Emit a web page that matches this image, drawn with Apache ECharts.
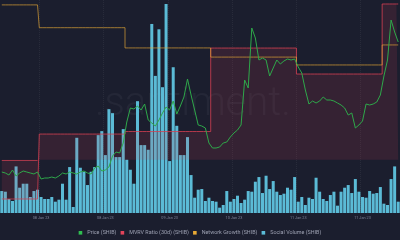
<!DOCTYPE html>
<html><head><meta charset="utf-8">
<script src="https://cdn.jsdelivr.net/npm/echarts@6/dist/echarts.min.js"></script>
<style>html,body{margin:0;padding:0;background:#1b1e2e;}#c{width:400px;height:240px;}</style>
</head><body><div id="c"></div>
<script>
// hourly categories starting 07 Jan 23 13:00
const categories = [];
for (let i = 0; i < 112; i++) {
  const t = 13 + i, d = 7 + Math.floor(t / 24), h = t % 24;
  categories.push((d < 10 ? '0' : '') + d + ' Jan 23 ' + (h < 10 ? '0' : '') + h + ':00');
}
const seriesNames = ['Price (SHIB)', 'MVRV Ratio (30d) (SHIB)', 'Network Growth (SHIB)', 'Social Volume (SHIB)'];

const socialVolume = [33,32,21,18,70,38,44,44,24,33,
  35,24,21,21,24,17,20,44,20,69,
  9,113,68,62,42,62,69,117,123,87,
  156,150,84,84,126,80,65,44,168,102,
  102,95,284,206,276,189,314,78,219,131,
  87,87,114,57,23,35,36,18,23,18,
  17,8,12,33,17,21,26,15,20,33,
  32,47,54,30,56,36,48,32,27,29,
  38,35,54,17,24,12,23,21,53,32,
  21,18,27,32,11,32,38,42,30,51,
  32,24,23,33,29,30,39,14,12,51,
  70,17];

const price = [7.41,7.40,7.38,7.43,7.37,7.40,7.42,7.41,7.40,7.39,
  7.41,7.34,7.35,7.35,7.36,7.35,7.37,7.40,7.39,7.41,
  7.40,7.39,7.41,7.42,7.40,7.39,7.45,7.47,7.42,7.43,
  7.46,7.57,7.61,7.60,7.70,7.91,8.05,8.04,8.07,8.03,
  8.09,7.93,7.90,7.87,7.93,8.00,8.06,8.03,8.12,7.99,
  8.07,8.16,8.34,8.18,8.03,7.88,7.87,7.85,7.70,7.65,
  7.65,7.66,7.70,7.71,7.76,7.80,7.83,7.88,8.33,8.25,
  8.85,8.75,8.53,8.55,8.53,8.37,8.45,8.53,8.49,8.52,
  8.54,8.53,8.54,8.46,8.40,8.23,8.09,8.12,8.10,8.12,
  8.16,8.13,8.13,8.12,8.10,8.08,8.05,7.98,8.00,7.85,
  7.88,7.92,8.09,8.08,8.09,8.11,8.18,8.37,8.53,8.93,
  8.81,8.71];

const mvrv = [-2.95,-2.95,-2.95,-2.95,-2.95,-2.95,-2.95,-2.95,-2.95,-2.95,-2.95,
  1.93,1.93,1.93,1.93,1.93,1.93,1.93,1.93,1.93,1.93,1.93,1.93,1.93,1.93,1.93,1.93,1.93,1.93,1.93,1.93,1.93,1.93,1.93,1.93,
  2.12,2.12,2.12,2.12,2.12,2.12,2.12,2.12,2.12,2.12,2.12,2.12,2.12,2.12,2.12,2.12,2.12,2.12,2.12,2.12,2.12,2.12,2.12,2.12,
  8.39,8.39,8.39,8.39,8.39,8.39,8.39,8.39,8.39,8.39,8.39,8.39,8.39,8.39,8.39,8.39,8.39,8.39,8.39,8.39,8.39,8.39,8.39,8.39,
  6.44,6.44,6.44,6.44,6.44,6.44,6.44,6.44,6.44,6.44,6.44,6.44,6.44,6.44,6.44,6.44,6.44,6.44,6.44,6.44,6.44,6.44,6.44,6.44,
  11.7,11.7,11.7,11.7,11.7];

const networkGrowth = [97.7,97.7,97.7,97.7,97.7,97.7,97.7,97.7,97.7,97.7,97.7,
  87.0,87.0,87.0,87.0,87.0,87.0,87.0,87.0,87.0,87.0,87.0,87.0,87.0,87.0,87.0,87.0,87.0,87.0,87.0,87.0,87.0,87.0,87.0,87.0,
  77.5,77.5,77.5,77.5,77.5,77.5,77.5,77.5,77.5,77.5,77.5,77.5,77.5,77.5,77.5,77.5,77.5,77.5,77.5,77.5,77.5,77.5,77.5,77.5,
  73.2,73.2,73.2,73.2,73.2,73.2,73.2,73.2,73.2,73.2,73.2,73.2,73.2,73.2,73.2,73.2,73.2,73.2,73.2,73.2,73.2,73.2,73.2,73.2,
  69.5,69.5,69.5,69.5,69.5,69.5,69.5,69.5,69.5,69.5,69.5,69.5,69.5,69.5,69.5,69.5,69.5,69.5,69.5,69.5,69.5,69.5,69.5,69.5,
  78.9,78.9,78.9,78.9,78.9];

const labelEvery = 18, labelOffset = 11;
const showTick = (i) => i % labelEvery === labelOffset;

const chart = echarts.init(document.getElementById('c'), null, {renderer: 'canvas'});
chart.setOption({
  animation: false,
  backgroundColor: '#1b1e2e',
  graphic: [{
    type: 'text', left: 95, top: 85, z: -10,
    style: { text: '.santiment.', font: '300 40px Roboto', fill: 'rgba(255,255,255,0.045)' }
  }],
  legend: {
    data: seriesNames, left: 'center', top: 230.3,
    icon: 'rect', itemWidth: 3.6, itemHeight: 3.6, itemGap: 4.2, padding: 0,
    textStyle: { color: '#9da1b2', fontSize: 5.4, fontFamily: 'Roboto' }
  },
  grid: { left: 0, right: 0, top: 0, bottom: 27 },
  xAxis: {
    type: 'category', data: categories, boundaryGap: true,
    axisLine: { show: false }, axisTick: { show: false },
    axisLabel: { interval: showTick, formatter: (v) => v.slice(0, 9), color: '#7d8296', fontSize: 3.8, margin: 2.6, fontFamily: 'Roboto' },
    splitLine: { show: true, interval: showTick, lineStyle: { color: 'rgba(255,255,255,0.06)', type: 'dotted', width: 1 } }
  },
  yAxis: [
    { type: 'value', min: 0, max: 320, show: false, splitLine: { show: false } },
    { type: 'value', min: 7, max: 9.13, show: false, splitLine: { show: false } },
    { type: 'value', min: -4, max: 12, show: false, splitLine: { show: false } },
    { type: 'value', min: 0, max: 100, show: false, splitLine: { show: false } }
  ],
  series: [
    { name: seriesNames[3], type: 'bar', yAxisIndex: 0, data: socialVolume, z: 1,
      barCategoryGap: '16%', itemStyle: { color: '#5bbbd6' } },
    { name: seriesNames[1], type: 'line', yAxisIndex: 2, data: mvrv, step: 'middle', symbol: 'none', z: 3,
      itemStyle: { color: '#e2445a' },
      lineStyle: { color: 'rgba(214,64,82,0.8)', width: 1 },
      areaStyle: { color: 'rgba(214,64,86,0.2)' },
      markLine: { silent: true, symbol: ['none', 'none'], label: { show: false },
        lineStyle: { color: 'rgba(214,64,82,0.7)', width: 1, type: 'solid' },
        data: [[{ coord: [0, 0] }, { coord: [10, 0] }]] } },
    { name: seriesNames[2], type: 'line', yAxisIndex: 3, data: networkGrowth, step: 'middle', symbol: 'none', z: 4,
      itemStyle: { color: '#e8a935' },
      lineStyle: { color: 'rgba(232,169,53,0.65)', width: 1 } },
    { name: seriesNames[0], type: 'line', yAxisIndex: 1, data: price, symbol: 'none', z: 5,
      itemStyle: { color: '#2fbf50' },
      lineStyle: { color: '#2ea84a', width: 1 } }
  ]
});
</script></body></html>
